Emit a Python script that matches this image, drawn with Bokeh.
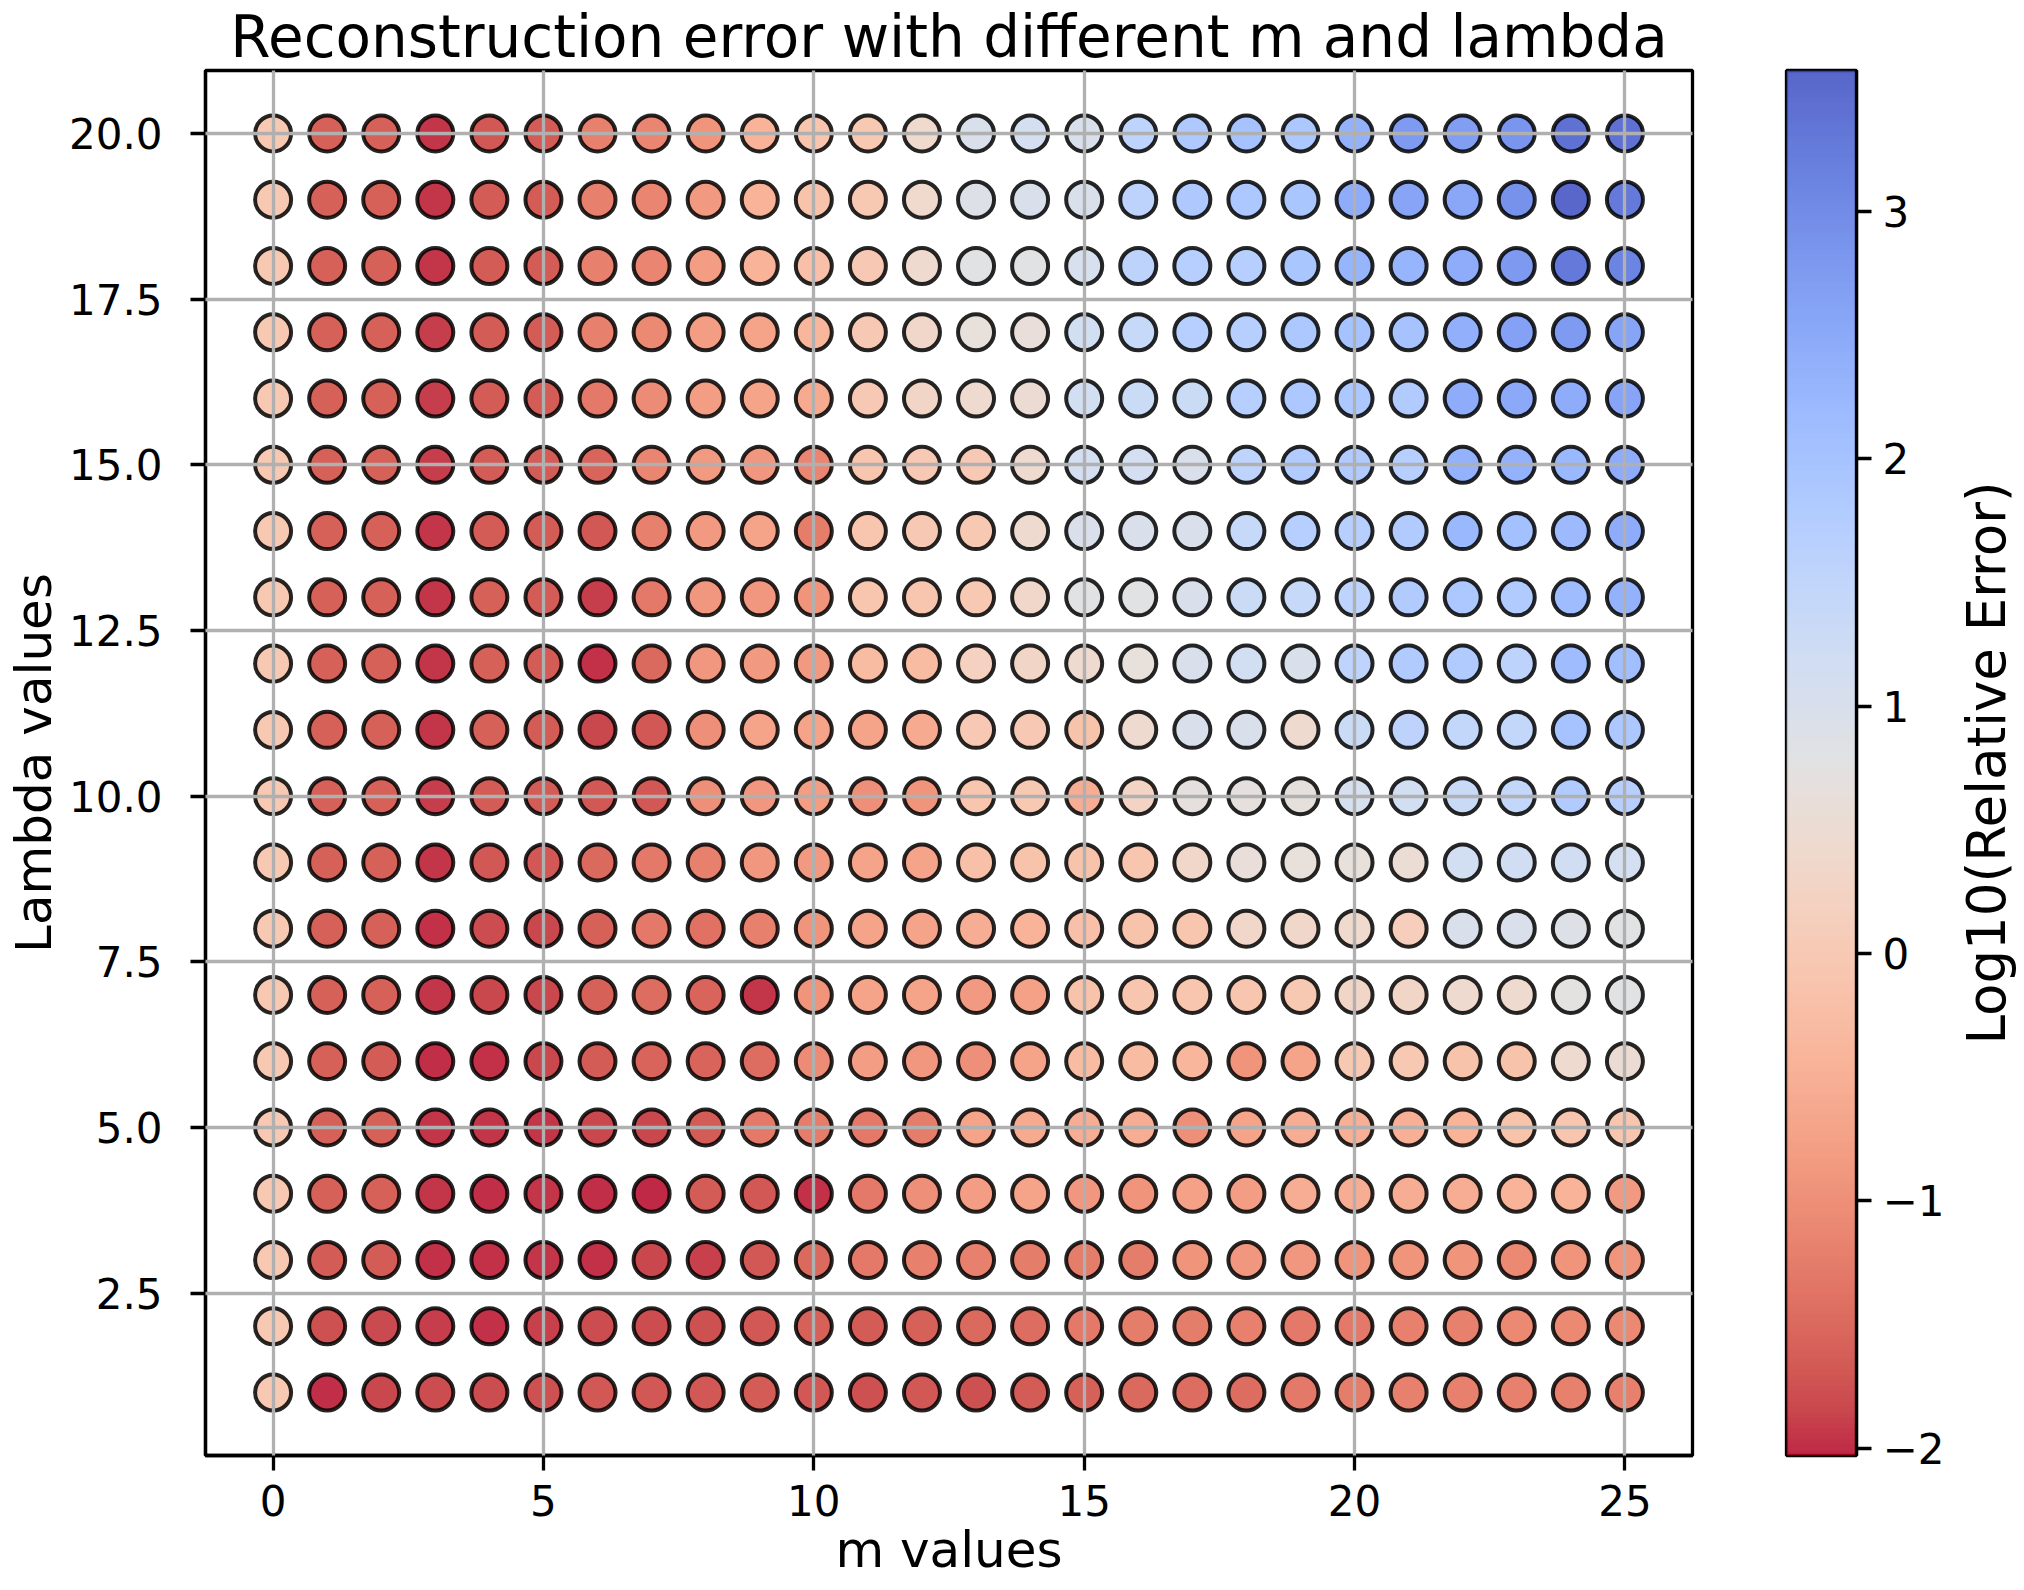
import numpy as np
from bokeh.plotting import figure
from bokeh.models import (ColumnDataSource, LinearColorMapper, Range1d, FixedTicker,
                          PrintfTickFormatter)
from bokeh.layouts import row
from bokeh.embed import file_html
from bokeh.resources import INLINE

# ---------------- data ----------------
m_values = list(range(26))
lambda_values = list(range(1, 21))

# log10(relative error), one list per lambda value, entries for m = 0..25
err_l01 = [-0.05, -2.0, -1.85, -1.8, -1.8, -1.75, -1.7, -1.7, -1.7, -1.65, -1.7, -1.75, -1.7, -1.75, -1.65, -1.6, -1.5, -1.45, -1.45, -1.3, -1.25, -1.2, -1.2, -1.2, -1.2, -1.2]
err_l02 = [-0.05, -1.75, -1.82, -1.92, -1.97, -1.88, -1.8, -1.8, -1.75, -1.7, -1.6, -1.65, -1.6, -1.5, -1.45, -1.3, -1.25, -1.25, -1.2, -1.3, -1.3, -1.2, -1.2, -1.1, -1.1, -1.1]
err_l03 = [-0.05, -1.65, -1.65, -1.97, -1.97, -1.95, -1.97, -1.85, -1.88, -1.7, -1.5, -1.3, -1.2, -1.2, -1.25, -1.25, -1.25, -0.95, -0.9, -0.9, -0.95, -0.95, -0.95, -1.1, -0.95, -0.95]
err_l04 = [-0.05, -1.6, -1.6, -1.95, -2.0, -1.95, -2.0, -2.02, -1.65, -1.7, -1.97, -1.3, -1.0, -0.8, -0.7, -0.9, -0.95, -0.75, -0.8, -0.55, -0.55, -0.55, -0.55, -0.45, -0.45, -0.85]
err_l05 = [-0.05, -1.6, -1.6, -1.95, -1.95, -1.95, -1.85, -1.85, -1.65, -1.3, -1.25, -1.3, -1.25, -0.7, -0.6, -0.55, -0.55, -1.0, -0.7, -0.55, -0.5, -0.5, -0.45, -0.15, -0.1, -0.1]
err_l06 = [-0.05, -1.6, -1.65, -2.0, -1.97, -1.85, -1.65, -1.55, -1.55, -1.45, -1.05, -0.8, -0.9, -1.0, -0.7, -0.3, -0.3, -0.4, -0.95, -0.7, -0.05, -0.05, -0.15, -0.15, 0.45, 0.5]
err_l07 = [-0.05, -1.6, -1.6, -1.95, -1.85, -1.85, -1.6, -1.45, -1.55, -1.95, -0.95, -0.7, -0.7, -0.85, -0.75, -0.15, -0.1, -0.1, -0.1, -0.05, 0.3, 0.3, 0.45, 0.45, 0.75, 0.8]
err_l08 = [-0.05, -1.6, -1.6, -1.97, -1.8, -1.85, -1.6, -1.3, -1.4, -1.2, -0.95, -0.7, -0.7, -0.55, -0.45, -0.2, -0.15, -0.1, 0.35, 0.35, 0.4, 0.1, 0.95, 0.95, 0.9, 0.8]
err_l09 = [-0.05, -1.6, -1.6, -1.95, -1.7, -1.7, -1.5, -1.3, -1.2, -0.9, -0.85, -0.7, -0.7, -0.2, -0.15, -0.15, -0.1, 0.35, 0.6, 0.65, 0.65, 0.55, 1.15, 1.2, 1.2, 1.1]
err_l10 = [-0.05, -1.6, -1.6, -1.9, -1.65, -1.65, -1.7, -1.7, -1.0, -0.9, -0.8, -1.0, -0.95, -0.1, -0.05, -0.55, 0.25, 0.7, 0.7, 0.68, 1.05, 1.15, 1.35, 1.45, 1.8, 1.7]
err_l11 = [-0.05, -1.6, -1.6, -1.95, -1.6, -1.65, -1.85, -1.7, -1.0, -0.7, -0.7, -0.7, -0.6, 0.0, 0.0, -0.15, 0.45, 0.95, 0.95, 0.45, 1.3, 1.6, 1.45, 1.45, 2.0, 1.9]
err_l12 = [-0.05, -1.6, -1.6, -1.95, -1.6, -1.65, -1.97, -1.5, -0.9, -0.85, -0.85, -0.3, -0.3, 0.2, 0.3, 0.45, 0.65, 1.0, 1.15, 1.0, 1.55, 1.8, 1.8, 1.6, 2.15, 2.1]
err_l13 = [-0.05, -1.6, -1.6, -1.95, -1.6, -1.65, -1.9, -1.3, -0.9, -0.9, -0.95, -0.1, -0.1, -0.05, 0.35, 0.8, 0.8, 1.0, 1.3, 1.4, 1.55, 1.8, 1.9, 1.8, 2.15, 2.35]
err_l14 = [-0.05, -1.6, -1.6, -1.95, -1.65, -1.65, -1.7, -1.2, -0.85, -0.7, -1.25, -0.1, 0.0, -0.05, 0.45, 0.95, 0.95, 1.0, 1.4, 1.7, 1.7, 1.8, 2.25, 2.05, 2.2, 2.45]
err_l15 = [-0.05, -1.6, -1.6, -1.9, -1.65, -1.65, -1.55, -1.15, -0.85, -0.9, -1.15, -0.1, 0.0, 0.0, 0.45, 1.1, 1.1, 0.95, 1.55, 1.8, 1.8, 1.7, 2.35, 2.35, 2.25, 2.45]
err_l16 = [-0.05, -1.6, -1.6, -1.9, -1.65, -1.65, -1.3, -1.05, -0.8, -0.7, -0.6, 0.0, 0.3, 0.45, 0.5, 1.15, 1.3, 1.3, 1.7, 1.9, 1.9, 1.8, 2.45, 2.5, 2.45, 2.6]
err_l17 = [-0.05, -1.6, -1.6, -1.9, -1.65, -1.65, -1.2, -1.1, -0.8, -0.7, -0.4, 0.0, 0.35, 0.65, 0.6, 1.15, 1.4, 1.7, 1.7, 1.9, 2.0, 2.0, 2.4, 2.65, 2.75, 2.6]
err_l18 = [-0.05, -1.6, -1.6, -1.95, -1.65, -1.65, -1.2, -1.15, -0.8, -0.45, -0.2, 0.0, 0.45, 0.8, 0.8, 1.05, 1.6, 1.7, 1.7, 1.95, 2.3, 2.3, 2.45, 2.8, 3.3, 3.1]
err_l19 = [-0.05, -1.6, -1.6, -1.95, -1.65, -1.65, -1.2, -1.15, -0.85, -0.45, -0.15, -0.05, 0.4, 0.9, 0.95, 1.0, 1.6, 1.85, 1.9, 1.95, 2.45, 2.6, 2.55, 2.9, 3.57, 3.3]
err_l20 = [-0.05, -1.6, -1.6, -1.95, -1.7, -1.65, -1.2, -1.15, -0.95, -0.45, -0.1, -0.05, 0.4, 0.95, 1.1, 1.0, 1.55, 1.85, 2.0, 1.9, 2.35, 2.75, 2.7, 2.85, 3.4, 3.4]

err_rows = [err_l01, err_l02, err_l03, err_l04, err_l05, err_l06, err_l07, err_l08, err_l09, err_l10,
            err_l11, err_l12, err_l13, err_l14, err_l15, err_l16, err_l17, err_l18, err_l19, err_l20]

x_ticks = [0, 5, 10, 15, 20, 25]
y_ticks = [2.5, 5.0, 7.5, 10.0, 12.5, 15.0, 17.5, 20.0]
cbar_ticks = [-2, -1, 0, 1, 2, 3]
cbar_low, cbar_high = -2.03, 3.57

# ---------------- colour map (coolwarm, reversed: red = low) ----------------
_cw = [
    (0.0, 59, 76, 192), (0.03125, 68, 90, 204), (0.0625, 77, 104, 215), (0.09375, 87, 117, 225),
    (0.125, 98, 130, 234), (0.15625, 108, 142, 241), (0.1875, 119, 154, 247), (0.21875, 130, 165, 251),
    (0.25, 141, 176, 254), (0.28125, 152, 185, 255), (0.3125, 163, 194, 255), (0.34375, 174, 201, 253),
    (0.375, 184, 208, 249), (0.40625, 194, 213, 244), (0.4375, 204, 217, 238), (0.46875, 213, 219, 230),
    (0.5, 221, 221, 221), (0.53125, 229, 216, 209), (0.5625, 236, 211, 197), (0.59375, 241, 204, 185),
    (0.625, 245, 196, 173), (0.65625, 247, 187, 160), (0.6875, 247, 177, 148), (0.71875, 247, 166, 135),
    (0.75, 244, 154, 123), (0.78125, 241, 141, 111), (0.8125, 236, 127, 99), (0.84375, 229, 112, 88),
    (0.875, 222, 96, 77), (0.90625, 213, 80, 66), (0.9375, 203, 62, 56), (0.96875, 192, 40, 47),
    (1.0, 180, 4, 38),
]
_pos = np.array([c[0] for c in _cw])
_r = np.array([c[1] for c in _cw]); _g = np.array([c[2] for c in _cw]); _b = np.array([c[3] for c in _cw])


def coolwarm(t):
    return "#%02x%02x%02x" % (int(round(np.interp(t, _pos, _r))),
                              int(round(np.interp(t, _pos, _g))),
                              int(round(np.interp(t, _pos, _b))))


palette = [coolwarm(1.0 - i / 255.0) for i in range(256)]
mapper = LinearColorMapper(palette=palette, low=cbar_low, high=cbar_high)

# ---------------- source ----------------
xs, ys, vals = [], [], []
for lam, row_vals in zip(lambda_values, err_rows):
    for m, v in zip(m_values, row_vals):
        xs.append(m); ys.append(lam); vals.append(v)
src = ColumnDataSource(dict(m=xs, lam=ys, err=vals))

FONT = "DejaVu Sans"
TICK_FS = "42px"
LABEL_FS = "50px"
LW = 3.3
FRAME_W, FRAME_H = 1487, 1385

# ---------------- main figure ----------------
p = figure(frame_width=FRAME_W, frame_height=FRAME_H,
           x_range=Range1d(-1.25, 26.25), y_range=Range1d(0.05, 20.95),
           min_border_left=205, min_border_right=38, min_border_top=70, min_border_bottom=135,
           output_backend="svg", toolbar_location=None,
           title="Reconstruction error with different m and lambda")
p.background_fill_color = "white"
p.border_fill_color = "white"
p.outline_line_color = "black"
p.outline_line_width = LW
p.title.align = "center"
p.title.text_font = FONT
p.title.text_font_size = "58px"
p.title.text_font_style = "normal"
p.title.text_color = "black"
p.title.standoff = 0

p.scatter("m", "lam", source=src, marker="circle", size=36,
          fill_color={"field": "err", "transform": mapper}, fill_alpha=0.85,
          line_color="black", line_alpha=0.85, line_width=4)

p.xaxis.ticker = FixedTicker(ticks=x_ticks)
p.yaxis.ticker = FixedTicker(ticks=y_ticks)
p.yaxis.formatter = PrintfTickFormatter(format="%.1f")
p.xgrid.ticker = FixedTicker(ticks=x_ticks)
p.ygrid.ticker = FixedTicker(ticks=y_ticks)
for g in (p.xgrid, p.ygrid):
    g.grid_line_color = "#b0b0b0"
    g.grid_line_width = LW
    g.level = "overlay"

p.xaxis.axis_label = "m values"
p.yaxis.axis_label = "Lambda values"
for ax in (p.xaxis, p.yaxis):
    ax.axis_line_color = "black"
    ax.axis_line_width = LW
    ax.major_tick_line_color = "black"
    ax.major_tick_line_width = LW
    ax.major_tick_out = 15
    ax.major_tick_in = 0
    ax.minor_tick_line_color = None
    ax.major_label_text_font = FONT
    ax.major_label_text_font_size = TICK_FS
    ax.major_label_text_color = "black"
    ax.axis_label_text_font = FONT
    ax.axis_label_text_font_size = LABEL_FS
    ax.axis_label_text_font_style = "normal"
    ax.axis_label_text_color = "black"
p.xaxis.major_label_standoff = 14
p.xaxis.axis_label_standoff = 2
p.yaxis.major_label_standoff = 28
p.yaxis.axis_label_standoff = 3

# ---------------- colour bar figure ----------------
p2 = figure(frame_width=70, frame_height=FRAME_H,
            x_range=Range1d(0, 1), y_range=Range1d(cbar_low, cbar_high),
            min_border_left=56, min_border_right=96, min_border_top=70, min_border_bottom=135,
            y_axis_location="right", output_backend="svg", toolbar_location=None)
p2.background_fill_color = "white"
p2.border_fill_color = "white"
p2.outline_line_color = "black"
p2.outline_line_width = LW
p2.xaxis.visible = False
p2.xgrid.visible = False
p2.ygrid.visible = False

grad = np.linspace(cbar_low, cbar_high, 512).reshape(-1, 1)
p2.image(image=[grad], x=0, y=cbar_low, dw=1, dh=cbar_high - cbar_low,
         color_mapper=mapper, global_alpha=0.85)

ay = p2.yaxis[0]
ay.ticker = FixedTicker(ticks=cbar_ticks)
ay.major_label_overrides = {-2: "\u22122", -1: "\u22121"}
ay.axis_line_color = "black"
ay.axis_line_width = LW
ay.major_tick_line_color = "black"
ay.major_tick_line_width = LW
ay.major_tick_out = 15
ay.major_tick_in = 0
ay.minor_tick_line_color = None
ay.major_label_text_font = FONT
ay.major_label_text_font_size = TICK_FS
ay.major_label_text_color = "black"
ay.major_label_standoff = 11

# ---------------- colour bar label (axis title, reads bottom-to-top) ----------------
p3 = figure(frame_width=1, frame_height=FRAME_H,
            x_range=Range1d(0, 1), y_range=Range1d(0, 1),
            min_border_left=66, min_border_right=1, min_border_top=52, min_border_bottom=153,
            output_backend="svg", toolbar_location=None)
p3.background_fill_color = "white"
p3.border_fill_color = "white"
p3.outline_line_color = None
p3.xaxis.visible = False
p3.xgrid.visible = False
p3.ygrid.visible = False
a3 = p3.yaxis[0]
a3.ticker = FixedTicker(ticks=[])
a3.axis_line_color = None
a3.major_tick_line_color = None
a3.minor_tick_line_color = None
a3.major_tick_out = 0
a3.major_label_text_font_size = "0px"
a3.major_label_standoff = 0
a3.axis_label = "Log10(Relative Error)"
a3.axis_label_standoff = 2
a3.axis_label_text_font = FONT
a3.axis_label_text_font_size = "53px"
a3.axis_label_text_font_style = "normal"
a3.axis_label_text_color = "black"

layout = row(p, p2, p3)
open("out.html", "w").write(file_html(layout, INLINE))
